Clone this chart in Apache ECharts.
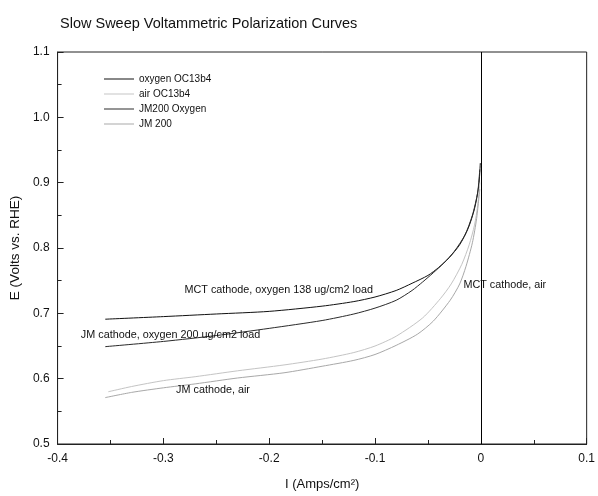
<!DOCTYPE html>
<html>
<head>
<meta charset="utf-8">
<script src="https://cdn.jsdelivr.net/npm/echarts@6/dist/echarts.min.js"></script>
<style>html,body{margin:0;padding:0;background:#fff}#c{width:598px;height:496px}</style>
</head>
<body>
<div id="c"></div>
<script>
var titleText = "Slow Sweep Voltammetric Polarization Curves";
var seriesNames = ["oxygen OC13b4", "air OC13b4", "JM200 Oxygen", "JM 200"];

// current (A/cm2) and potential (V vs RHE)
var mctO2_I = [-0.355,-0.3,-0.25,-0.2,-0.15,-0.12,-0.1,-0.08,-0.065,-0.05,-0.04,-0.03,-0.02,-0.012,-0.006,-0.002,-0.0005];
var mctO2_E = [0.691,0.695,0.699,0.703,0.711,0.718,0.725,0.735,0.746,0.758,0.770,0.785,0.805,0.830,0.860,0.895,0.930];

var mctAir_I = [-0.352,-0.33,-0.3,-0.27,-0.23,-0.186,-0.15,-0.12,-0.1,-0.08,-0.055,-0.038,-0.028,-0.018,-0.011,-0.006,-0.003,-0.001];
var mctAir_E = [0.580,0.588,0.597,0.603,0.612,0.621,0.630,0.640,0.650,0.665,0.693,0.723,0.745,0.775,0.805,0.835,0.865,0.900];

var jmO2_I = [-0.355,-0.3,-0.25,-0.2,-0.15,-0.12,-0.1,-0.08,-0.065,-0.055,-0.045,-0.035,-0.025,-0.015,-0.008,-0.003,-0.001];
var jmO2_E = [0.649,0.657,0.666,0.677,0.689,0.699,0.708,0.720,0.735,0.748,0.762,0.777,0.795,0.820,0.850,0.885,0.920];

var jmAir_I = [-0.355,-0.33,-0.3,-0.27,-0.23,-0.186,-0.15,-0.12,-0.1,-0.08,-0.06,-0.045,-0.029,-0.02,-0.014,-0.008,-0.004,-0.001];
var jmAir_E = [0.571,0.579,0.586,0.592,0.601,0.609,0.619,0.628,0.637,0.651,0.668,0.688,0.720,0.745,0.772,0.808,0.845,0.890];

var xTicks = [-0.4,-0.3,-0.2,-0.1,0,0.1];
var yTicks = [0.5,0.6,0.7,0.8,0.9,1.0,1.1];

var annText = ["MCT cathode, oxygen 138 ug/cm2 load","JM cathode, oxygen 200 ug/cm2 load","JM cathode, air","MCT cathode, air"];
var annX = [-0.28,-0.378,-0.288,-0.0165];
var annY = [0.735,0.667,0.583,0.744];

function zip(a,b){return a.map(function(v,i){return [v,b[i]];});}

var FONT = "Liberation Sans";
var chart = echarts.init(document.getElementById('c'), null, {renderer:'canvas'});

function lineSeries(name, I, E, color, width, type){
  return {
    name:name, type:'line', data:zip(I,E), symbol:'none', smooth:0.25,
    lineStyle:{color:color,width:width,type:type}, itemStyle:{color:color},
    z:3, animation:false
  };
}

var series = [
  lineSeries(seriesNames[0], mctO2_I, mctO2_E, '#111', 1, 'solid'),
  lineSeries(seriesNames[1], mctAir_I, mctAir_E, '#c4c4c4', 1, 'solid'),
  lineSeries(seriesNames[2], jmO2_I, jmO2_E, '#2a2a2a', 1, 'solid'),
  lineSeries(seriesNames[3], jmAir_I, jmAir_E, '#a8a8a8', 1, 'solid')
];
series[0].markLine = {
  silent:true, symbol:['none','none'], animation:false,
  lineStyle:{color:'#000',width:1,type:'solid'}, label:{show:false},
  data:[{xAxis:0}]
};
series.push({
  type:'scatter', data:[], silent:true, animation:false,
  markPoint:{
    symbol:'circle', symbolSize:0, animation:false,
    label:{show:true, position:'right', distance:0, color:'#111', fontFamily:FONT, fontSize:10.8},
    data: annText.map(function(t,i){return {coord:[annX[i],annY[i]], value:t, label:{formatter:t}};})
  }
});

chart.setOption({
  backgroundColor:'#fff',
  animation:false,
  title:{text:titleText, left:55, top:11, textStyle:{fontFamily:FONT,fontSize:14.5,fontWeight:'normal',color:'#111'}},
  legend:{
    data:seriesNames, orient:'vertical', left:99, top:68, icon:'rect', itemWidth:30, itemHeight:1, itemGap:3,
    textStyle:{fontFamily:FONT,fontSize:10,color:'#111',lineHeight:12}, selectedMode:false
  },
  grid:{left:57, right:6, top:52, bottom:49, show:true, borderColor:'#222', borderWidth:1, backgroundColor:'transparent'},
  xAxis:{
    type:'value', min:xTicks[0], max:xTicks[xTicks.length-1], interval:0.1,
    name:'I (Amps/cm\u00B2)', nameLocation:'middle', nameGap:34,
    nameTextStyle:{fontFamily:FONT,fontSize:13,color:'#111'},
    axisLine:{show:true,onZero:false,lineStyle:{color:'#222'}},
    axisTick:{show:true,inside:true,length:6,lineStyle:{color:'#222'}},
    minorTick:{show:true,splitNumber:2,length:4,lineStyle:{color:'#222'}},
    splitLine:{show:false},
    axisLabel:{fontFamily:FONT,fontSize:12,color:'#111',margin:9,
      formatter:function(v){return Math.abs(v)<1e-9?'0':(+v.toFixed(1)).toString();}}
  },
  yAxis:{
    type:'value', min:yTicks[0], max:yTicks[yTicks.length-1], interval:0.1,
    name:'E (Volts vs. RHE)', nameLocation:'middle', nameGap:31,
    nameTextStyle:{fontFamily:FONT,fontSize:13.5,color:'#111'},
    axisLine:{show:true,onZero:false,lineStyle:{color:'#222'}},
    axisTick:{show:true,inside:true,length:6,lineStyle:{color:'#222'}},
    minorTick:{show:true,splitNumber:2,length:4,lineStyle:{color:'#222'}},
    splitLine:{show:false},
    axisLabel:{fontFamily:FONT,fontSize:12,color:'#111',margin:8,
      formatter:function(v){return v.toFixed(1);}}
  },
  series:series
});
</script>
</body>
</html>
